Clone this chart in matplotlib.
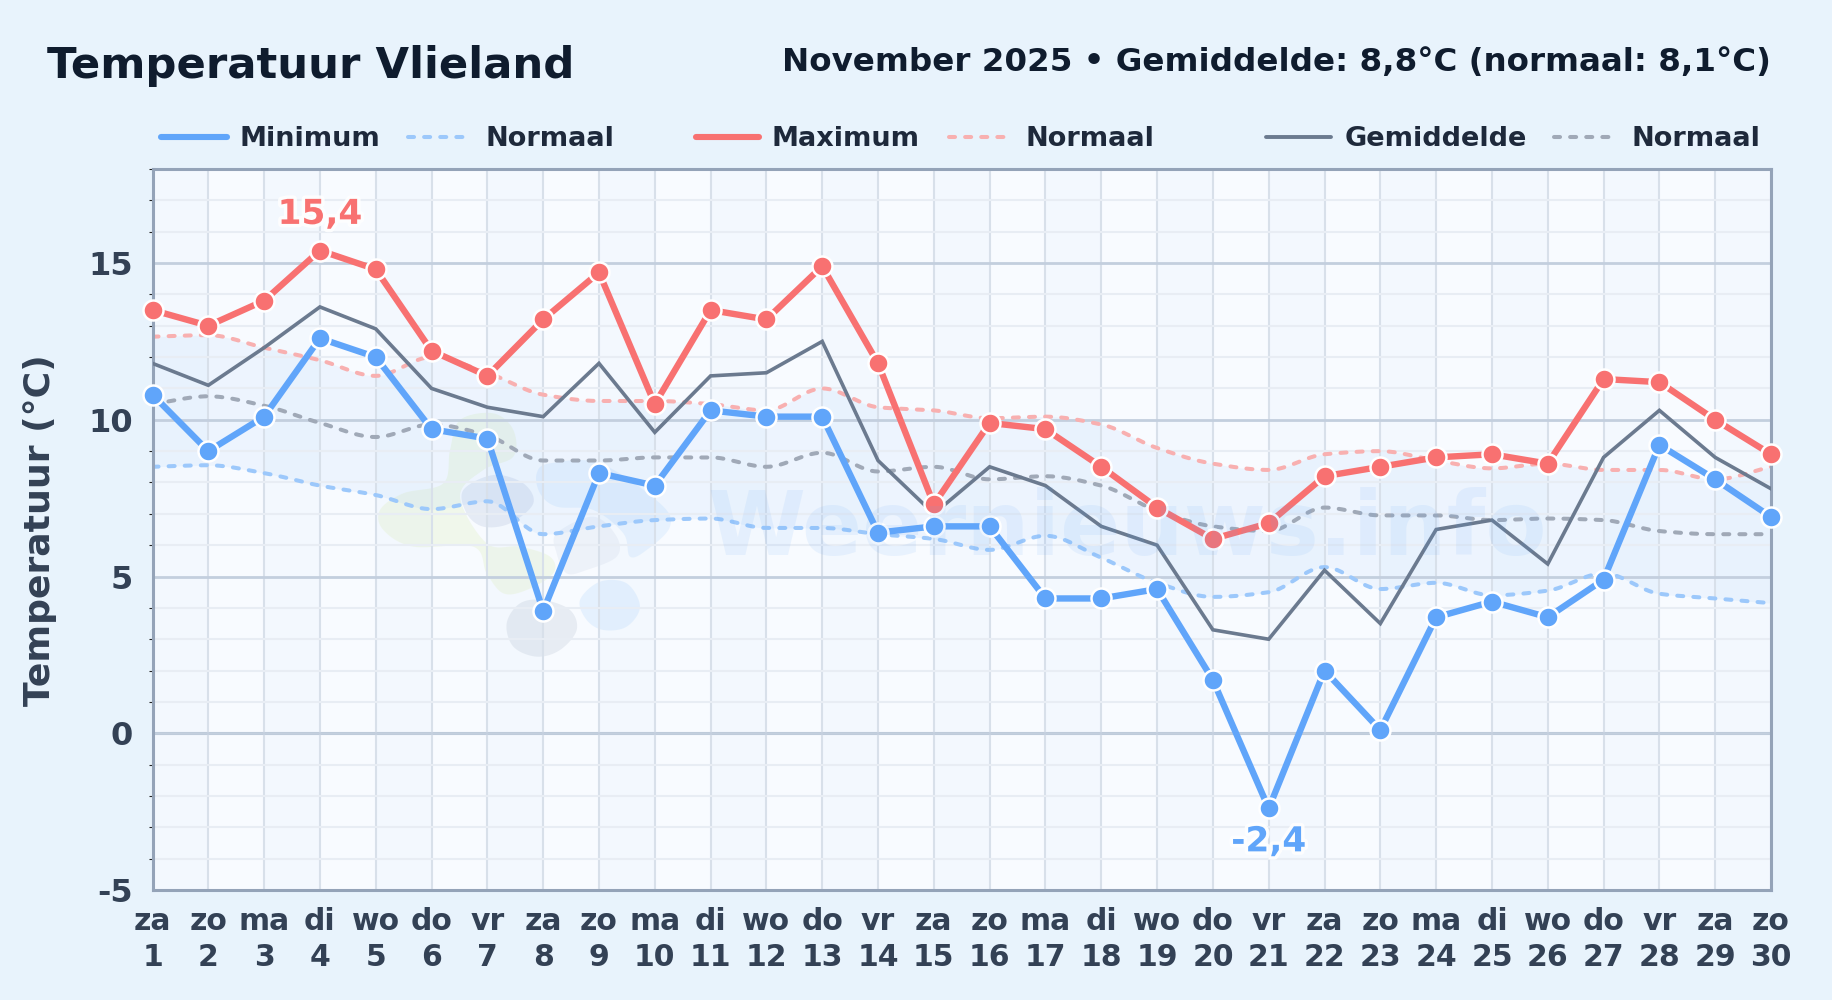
import numpy as np
import matplotlib
matplotlib.use("Agg")
import matplotlib.pyplot as plt
from matplotlib.lines import Line2D
from matplotlib.patches import Polygon
from matplotlib.transforms import Affine2D
import matplotlib.patheffects as pe

days = list(range(1, 31))
weekdays = ["za","zo","ma","di","wo","do","vr"] * 4 + ["za","zo"]
t_max = [13.5,13.0,13.8,15.4,14.8,12.2,11.4,13.2,14.7,10.5,13.5,13.2,14.9,11.8,7.3,9.9,9.7,8.5,7.2,6.2,6.7,8.2,8.5,8.8,8.9,8.6,11.3,11.2,10.0,8.9]
t_min = [10.8,9.0,10.1,12.6,12.0,9.7,9.4,3.9,8.3,7.9,10.3,10.1,10.1,6.4,6.6,6.6,4.3,4.3,4.6,1.7,-2.4,2.0,0.1,3.7,4.2,3.7,4.9,9.2,8.1,6.9]
t_avg = [11.8,11.1,12.3,13.6,12.9,11.0,10.4,10.1,11.8,9.6,11.4,11.5,12.5,8.7,7.0,8.5,7.9,6.6,6.0,3.3,3.0,5.2,3.5,6.5,6.8,5.4,8.8,10.3,8.8,7.8]
n_max = [12.65,12.7,12.3,11.9,11.4,12.0,11.5,10.8,10.6,10.6,10.5,10.3,11.0,10.4,10.3,10.05,10.1,9.85,9.1,8.6,8.4,8.9,9.0,8.7,8.45,8.6,8.4,8.4,8.1,8.5]
n_avg = [10.5,10.75,10.45,9.9,9.45,9.85,9.5,8.7,8.7,8.8,8.8,8.5,8.95,8.35,8.5,8.1,8.2,7.9,7.1,6.6,6.45,7.2,6.95,6.95,6.8,6.85,6.8,6.45,6.35,6.35]
n_min = [8.5,8.55,8.3,7.9,7.6,7.15,7.4,6.35,6.6,6.8,6.85,6.55,6.55,6.35,6.2,5.85,6.3,5.6,4.8,4.35,4.5,5.3,4.6,4.8,4.4,4.55,5.1,4.45,4.3,4.15]

W, H = 1832, 1000
BG = "#e8f3fc"
C_MIN, C_MAX, C_AVG = "#60a5fa", "#f87171", "#6b7a8f"
C_NMIN, C_NMAX, C_NAVG = "#9cc8fb", "#f8b0b0", "#a0a9b7"
C_TEXT = "#334155"
C_DARK = "#1e293b"

fig = plt.figure(figsize=(W / 100, H / 100), dpi=100, facecolor=BG)
px = Affine2D().scale(1 / W, -1 / H).translate(0, 1) + fig.transFigure
L, R, T, B = 152.5, 1771, 169, 890
ax = fig.add_axes([L / W, 1 - B / H, (R - L) / W, (B - T) / H])
ax.set_xlim(1, 30)
ax.set_ylim(-5, 18)
ax.set_facecolor("#f8fbff")


def smooth(x, y, n=16):
    """Monotone cubic display curve through the read values."""
    x, y = np.asarray(x, float), np.asarray(y, float)
    d = np.diff(y)
    m = np.zeros_like(y)
    m[0], m[-1] = d[0], d[-1]
    for i in range(1, len(y) - 1):
        m[i] = 0 if d[i - 1] * d[i] <= 0 else 2 * d[i - 1] * d[i] / (d[i - 1] + d[i])
    t = np.linspace(0, 1, n, endpoint=False)
    xs, ys = [], []
    for i in range(len(y) - 1):
        h00 = 2*t**3 - 3*t**2 + 1
        h10 = t**3 - 2*t**2 + t
        h01 = -2*t**3 + 3*t**2
        h11 = t**3 - t**2
        xs.append(x[i] + t)
        ys.append(h00*y[i] + h10*m[i] + h01*y[i+1] + h11*m[i+1])
    return np.r_[np.concatenate(xs), x[-1]], np.r_[np.concatenate(ys), y[-1]]


def blob(points, n=12):
    """Closed Catmull-Rom outline for the faint logo shapes (crop coordinates)."""
    p = np.array(points, float)
    p = np.c_[360 + p[:, 0] / 3, 400 + p[:, 1] / 3]
    out = []
    t = np.linspace(0, 1, n, endpoint=False)[:, None]
    k = len(p)
    for i in range(k):
        p0, p1, p2, p3 = p[i - 1], p[i], p[(i + 1) % k], p[(i + 2) % k]
        out.append(0.5 * (2*p1 + (p2 - p0)*t + (2*p0 - 5*p1 + 4*p2 - p3)*t**2 + (3*p1 - p0 - 3*p2 + p3)*t**3))
    return np.vstack(out)


for d in days[:-1:2]:
    ax.axvspan(d, d + 1, color="#dbeafe", alpha=0.15, lw=0, zorder=0.1)

ax.set_yticks([-5, 0, 5, 10, 15])
ax.set_yticklabels(["-5", "0", "5", "10", "15"])
ax.set_yticks([v for v in range(-5, 19) if v % 5], minor=True)
ax.set_xticks(days)
ax.set_xticklabels([f"{w}\n{d}" for w, d in zip(weekdays, days)], linespacing=1.27)
ax.grid(True, which="major", axis="y", color="#c3cfde", lw=2.0, zorder=0.5)
ax.grid(True, which="minor", axis="y", color="#e8edf4", lw=1.5, zorder=0.4)
ax.grid(True, which="major", axis="x", color="#d8e0ea", lw=1.5, zorder=0.5)
ax.axhline(0, color="#9dabbe", lw=2.2, zorder=0.6)
ax.tick_params(axis="x", which="major", length=0, labelsize=21.5, labelcolor=C_TEXT, pad=12.5)
ax.tick_params(axis="y", which="major", length=0, labelsize=23, labelcolor=C_TEXT, pad=14)
ax.tick_params(axis="y", which="minor", length=3, width=0.8, color="#222222")
for t in ax.get_xticklabels() + ax.get_yticklabels():
    t.set_fontweight("bold")
for s in ax.spines.values():
    s.set_color("#94a3b8")
    s.set_linewidth(2.2)

# watermark
shapes = [
    ([(60,330),(130,280),(250,250),(270,150),(300,60),(400,40),(460,90),(460,170),(370,210),(300,290),(380,430),(480,440),(570,470),(580,520),(500,570),(430,580),(380,520),(340,440),(160,440),(70,390)], "#dfeec0", 0.30),
    ([(530,220),(570,190),(720,190),(900,310),(930,380),(860,450),(810,470),(790,400),(700,330),(590,320),(540,280)], "#93c5fd", 0.16),
    ([(660,600),(720,545),(800,550),(840,620),(800,680),(730,690),(680,660)], "#93c5fd", 0.18),
    ([(310,270),(400,225),(490,250),(520,310),(450,370),(370,380),(320,340)], "#94a3c8", 0.18),
    ([(590,400),(700,350),(770,410),(770,470),(680,510),(620,520),(590,460)], "#94a3c8", 0.10),
    ([(440,670),(480,610),(550,600),(630,630),(650,690),(600,750),(530,770),(460,740)], "#94a3b8", 0.17),
]
for pts, c, a in shapes:
    ax.add_patch(Polygon(blob(pts), closed=True, transform=px, fc=c, ec="none", alpha=a, zorder=0.8))
fig.text(1127.5 / W, 1 - 531 / H, "Weernieuws.info", fontsize=64, fontweight="bold", color=C_MIN, alpha=0.10,
         ha="center", va="center", zorder=0.9)

# normals
sx, smax = smooth(days, n_max)
_, smin = smooth(days, n_min)
_, savg = smooth(days, n_avg)
ax.fill_between(sx, smin, smax, color=C_MIN, alpha=0.07, lw=0, zorder=1)
dash = (0, (1.5, 2.5))
for yy, c in ((smin, C_NMIN), (smax, C_NMAX), (savg, C_NAVG)):
    ax.plot(sx, yy, color=c, lw=2.9, ls=dash, dash_capstyle="round", zorder=2)

# observed series
ax.plot(days, t_avg, color=C_AVG, lw=2.6, zorder=3, solid_joinstyle="miter")
marker = dict(marker="o", ms=14.4, mew=1.8, mec="white", lw=4.6, clip_on=False, solid_capstyle="round")
ax.plot(days, t_min, color=C_MIN, zorder=4, **marker)
ax.plot(days, t_max, color=C_MAX, zorder=5, **marker)

stroke = [pe.withStroke(linewidth=5, foreground="white", alpha=0.85)]
i_hi = int(np.argmax(t_max))
i_lo = int(np.argmin(t_min))
ax.annotate(f"{t_max[i_hi]}".replace(".", ","), (days[i_hi], t_max[i_hi]), xytext=(0, 26), textcoords="offset points",
            ha="center", va="center", fontsize=24.7, fontweight="bold", color=C_MAX, path_effects=stroke, zorder=6)
ax.annotate(f"{t_min[i_lo]}".replace(".", ","), (days[i_lo], t_min[i_lo]), xytext=(0, -24), textcoords="offset points",
            ha="center", va="center", fontsize=24.7, fontweight="bold", color=C_MIN, path_effects=stroke, zorder=6)

# texts
fig.text(47 / W, 1 - 66 / H, "Temperatuur Vlieland", fontsize=31.2, fontweight="bold", color="#0f1c2e", ha="left", va="center")
fig.text(R / W, 1 - 62 / H, "November 2025 • Gemiddelde: 8,8°C (normaal: 8,1°C)", fontsize=23.4, fontweight="bold",
         color="#0f1c2e", ha="right", va="center")
fig.text(40 / W, 1 - 530 / H, "Temperatuur (°C)", fontsize=26.1, fontweight="bold", color=C_TEXT, rotation=90,
         ha="center", va="center")

# legend
legend_items = [
    (161, 227, 240, "Minimum", C_MIN, 4.4, "-"), (408, 464, 486, "Normaal", C_NMIN, 2.9, dash),
    (696, 759, 772, "Maximum", C_MAX, 4.4, "-"), (949, 1004, 1026, "Normaal", C_NMAX, 2.9, dash),
    (1266, 1331, 1345, "Gemiddelde", C_AVG, 2.8, "-"), (1554, 1618, 1632, "Normaal", C_NAVG, 2.9, dash),
]
for x0, x1, xt, label, c, lw, ls in legend_items:
    fig.add_artist(Line2D([x0, x1], [137, 137], transform=px, color=c, lw=lw, ls=ls,
                          solid_capstyle="round", dash_capstyle="round"))
    fig.text(xt / W, 1 - 138.5 / H, label, fontsize=19.5, fontweight="bold", color=C_DARK, ha="left", va="center")

fig.savefig("out.png", dpi=100, facecolor=BG)
